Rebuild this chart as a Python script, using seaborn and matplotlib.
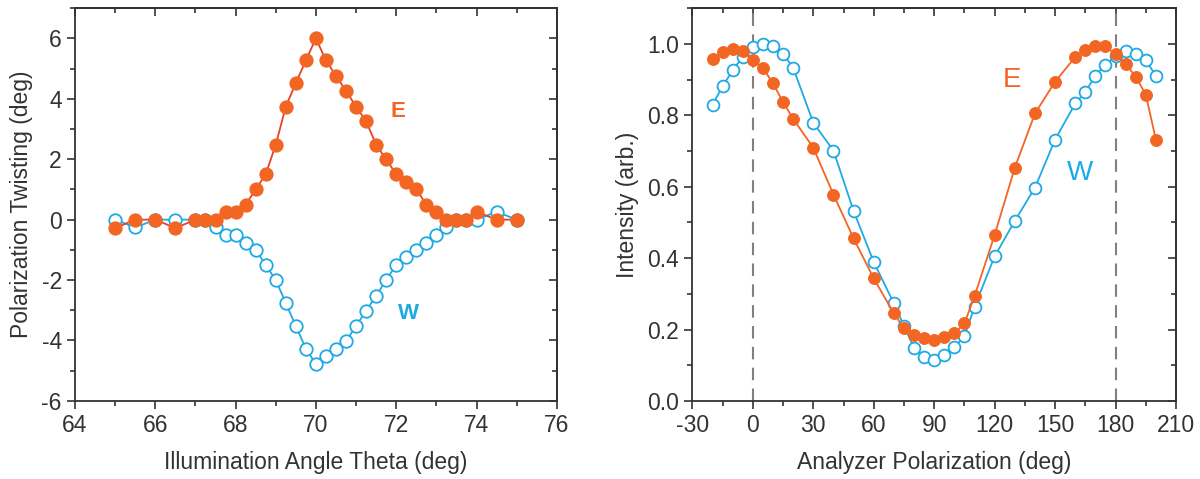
import numpy as np
import pandas as pd
import matplotlib
matplotlib.use("Agg")
import matplotlib.pyplot as plt
import seaborn as sns
from matplotlib.ticker import MultipleLocator

# Panel (a): polarization twisting vs illumination angle
theta = [65, 65.5, 66, 66.5, 67, 67.25, 67.5, 67.75, 68, 68.25, 68.5, 68.75,
         69, 69.25, 69.5, 69.75, 70, 70.25, 70.5, 70.75, 71, 71.25, 71.5, 71.75,
         72, 72.25, 72.5, 72.75, 73, 73.25, 73.5, 73.75, 74, 74.5, 75]
twist_E = [-0.28, 0, 0, -0.28, 0, 0, 0, 0.26, 0.26, 0.5, 1.0, 1.5,
           2.48, 3.74, 4.52, 5.27, 6.0, 5.27, 4.76, 4.26, 3.74, 3.26, 2.48, 2.0,
           1.5, 1.26, 1.0, 0.5, 0.26, 0, 0, 0, 0.26, 0, 0]
twist_W = [0, -0.26, 0, 0, 0, 0, -0.26, -0.5, -0.5, -0.76, -1.0, -1.5,
           -2.0, -2.76, -3.52, -4.27, -4.78, -4.52, -4.27, -4.02, -3.52, -3.02, -2.52, -2.0,
           -1.5, -1.24, -1.0, -0.76, -0.5, -0.26, 0, 0, 0, 0.26, 0]

# Panel (b): intensity vs analyzer polarization
analyzer = [-20, -15, -10, -5, 0, 5, 10, 15, 20, 30, 40, 50, 60, 70, 75, 80, 85,
            90, 95, 100, 105, 110, 120, 130, 140, 150, 160, 165, 170, 175, 180,
            185, 190, 195, 200]
inten_E = [0.958, 0.977, 0.986, 0.979, 0.954, 0.933, 0.889, 0.837, 0.790, 0.709,
           0.578, 0.455, 0.343, 0.245, 0.204, 0.184, 0.175, 0.172, 0.179, 0.189,
           0.217, 0.293, 0.465, 0.653, 0.805, 0.894, 0.963, 0.982, 0.995, 0.993,
           0.972, 0.944, 0.908, 0.858, 0.732]
inten_W = [0.830, 0.881, 0.926, 0.964, 0.992, 1.0, 0.995, 0.972, 0.933, 0.779,
           0.701, 0.532, 0.389, 0.273, 0.21, 0.148, 0.123, 0.116, 0.128, 0.151,
           0.181, 0.263, 0.405, 0.504, 0.597, 0.732, 0.833, 0.865, 0.911, 0.942,
           0.965, 0.979, 0.972, 0.954, 0.911]

orange = '#F26522'
red_line = '#E8402A'
cyan = '#1FAAE3'
ink = '#333333'

sns.set_style("ticks")
plt.rcParams['font.family'] = ['Liberation Sans', 'DejaVu Sans']
plt.rcParams['axes.linewidth'] = 1.3
plt.rcParams['axes.unicode_minus'] = False

fig = plt.figure(figsize=(12, 4.79), dpi=100)
ax1 = fig.add_axes([0.0625, 0.163, 0.4015, 0.82])
ax2 = fig.add_axes([0.577, 0.163, 0.403, 0.82])

df1 = pd.DataFrame({'theta': theta, 'E': twist_E, 'W': twist_W})
df2 = pd.DataFrame({'ang': analyzer, 'E': inten_E, 'W': inten_W})

# left panel
sns.lineplot(data=df1, x='theta', y='W', ax=ax1, color=cyan, lw=1.3,
             marker='o', markersize=9, markerfacecolor='white',
             markeredgecolor=cyan, markeredgewidth=1.3, estimator=None, sort=False)
sns.lineplot(data=df1, x='theta', y='E', ax=ax1, color=red_line, lw=1.3,
             marker='o', markersize=9.5, markerfacecolor=orange,
             markeredgecolor=orange, estimator=None, sort=False)
ax1.text(72.05, 3.57, 'E', color=orange, fontsize=16, fontweight='bold',
         ha='center', va='center')
ax1.text(72.3, -3.1, 'W', color=cyan, fontsize=16, fontweight='bold',
         ha='center', va='center')
ax1.set_xlim(64, 76)
ax1.set_ylim(-6, 7)
ax1.xaxis.set_major_locator(MultipleLocator(2))
ax1.xaxis.set_minor_locator(MultipleLocator(1))
ax1.yaxis.set_major_locator(MultipleLocator(2))
ax1.yaxis.set_minor_locator(MultipleLocator(1))
ax1.set_yticks([-6, -4, -2, 0, 2, 4, 6])
ax1.set_xlabel('Illumination Angle Theta (deg)', fontsize=16.5, color=ink, labelpad=10)
ax1.set_ylabel('Polarization Twisting (deg)', fontsize=16.5, color=ink, labelpad=6)

# right panel
ax2.axvline(0, color='#808080', lw=1.5, ls=(0, (6, 4)))
ax2.axvline(180, color='#808080', lw=1.5, ls=(0, (6, 4)))
sns.lineplot(data=df2, x='ang', y='W', ax=ax2, color=cyan, lw=1.3,
             marker='o', markersize=8.5, markerfacecolor='white',
             markeredgecolor=cyan, markeredgewidth=1.3, estimator=None, sort=False)
sns.lineplot(data=df2, x='ang', y='E', ax=ax2, color=orange, lw=1.3,
             marker='o', markersize=8.5, markerfacecolor=orange,
             markeredgecolor=orange, estimator=None, sort=False)
ax2.text(128.8, 0.898, 'E', color=orange, fontsize=20, ha='center', va='center')
ax2.text(162.4, 0.637, 'W', color=cyan, fontsize=20, ha='center', va='center')
ax2.set_xlim(-30, 210)
ax2.set_ylim(0, 1.1)
ax2.xaxis.set_major_locator(MultipleLocator(30))
ax2.xaxis.set_minor_locator(MultipleLocator(15))
ax2.set_yticks([0.0, 0.2, 0.4, 0.6, 0.8, 1.0])
ax2.yaxis.set_minor_locator(MultipleLocator(0.1))
ax2.yaxis.set_major_formatter(matplotlib.ticker.FormatStrFormatter('%.1f'))
ax2.set_xlabel('Analyzer Polarization (deg)', fontsize=16.5, color=ink, labelpad=10)
ax2.set_ylabel('Intensity (arb.)', fontsize=16.5, color=ink, labelpad=6)

# ticks: outward on bottom/left, inward mirrors on top/right
for ax in (ax1, ax2):
    for s in ax.spines.values():
        s.set_visible(True)
        s.set_color(ink)
    ax.tick_params(which='major', length=6, width=1.2, direction='out',
                   labelsize=16.5, colors=ink)
    ax.tick_params(which='minor', length=3.5, width=1.2, direction='out',
                   colors=ink)
    top = ax.secondary_xaxis('top')
    top.xaxis.set_major_locator(ax.xaxis.get_major_locator())
    top.xaxis.set_minor_locator(ax.xaxis.get_minor_locator())
    top.tick_params(which='major', length=6, width=1.2, direction='in',
                    labeltop=False, colors=ink)
    top.tick_params(which='minor', length=3.5, width=1.2, direction='in',
                    colors=ink)
    right = ax.secondary_yaxis('right')
    right.yaxis.set_major_locator(ax.yaxis.get_major_locator())
    right.yaxis.set_minor_locator(ax.yaxis.get_minor_locator())
    right.tick_params(which='major', length=6, width=1.2, direction='in',
                      labelright=False, colors=ink)
    right.tick_params(which='minor', length=3.5, width=1.2, direction='in',
                      colors=ink)

plt.savefig("out.png", dpi=100)
